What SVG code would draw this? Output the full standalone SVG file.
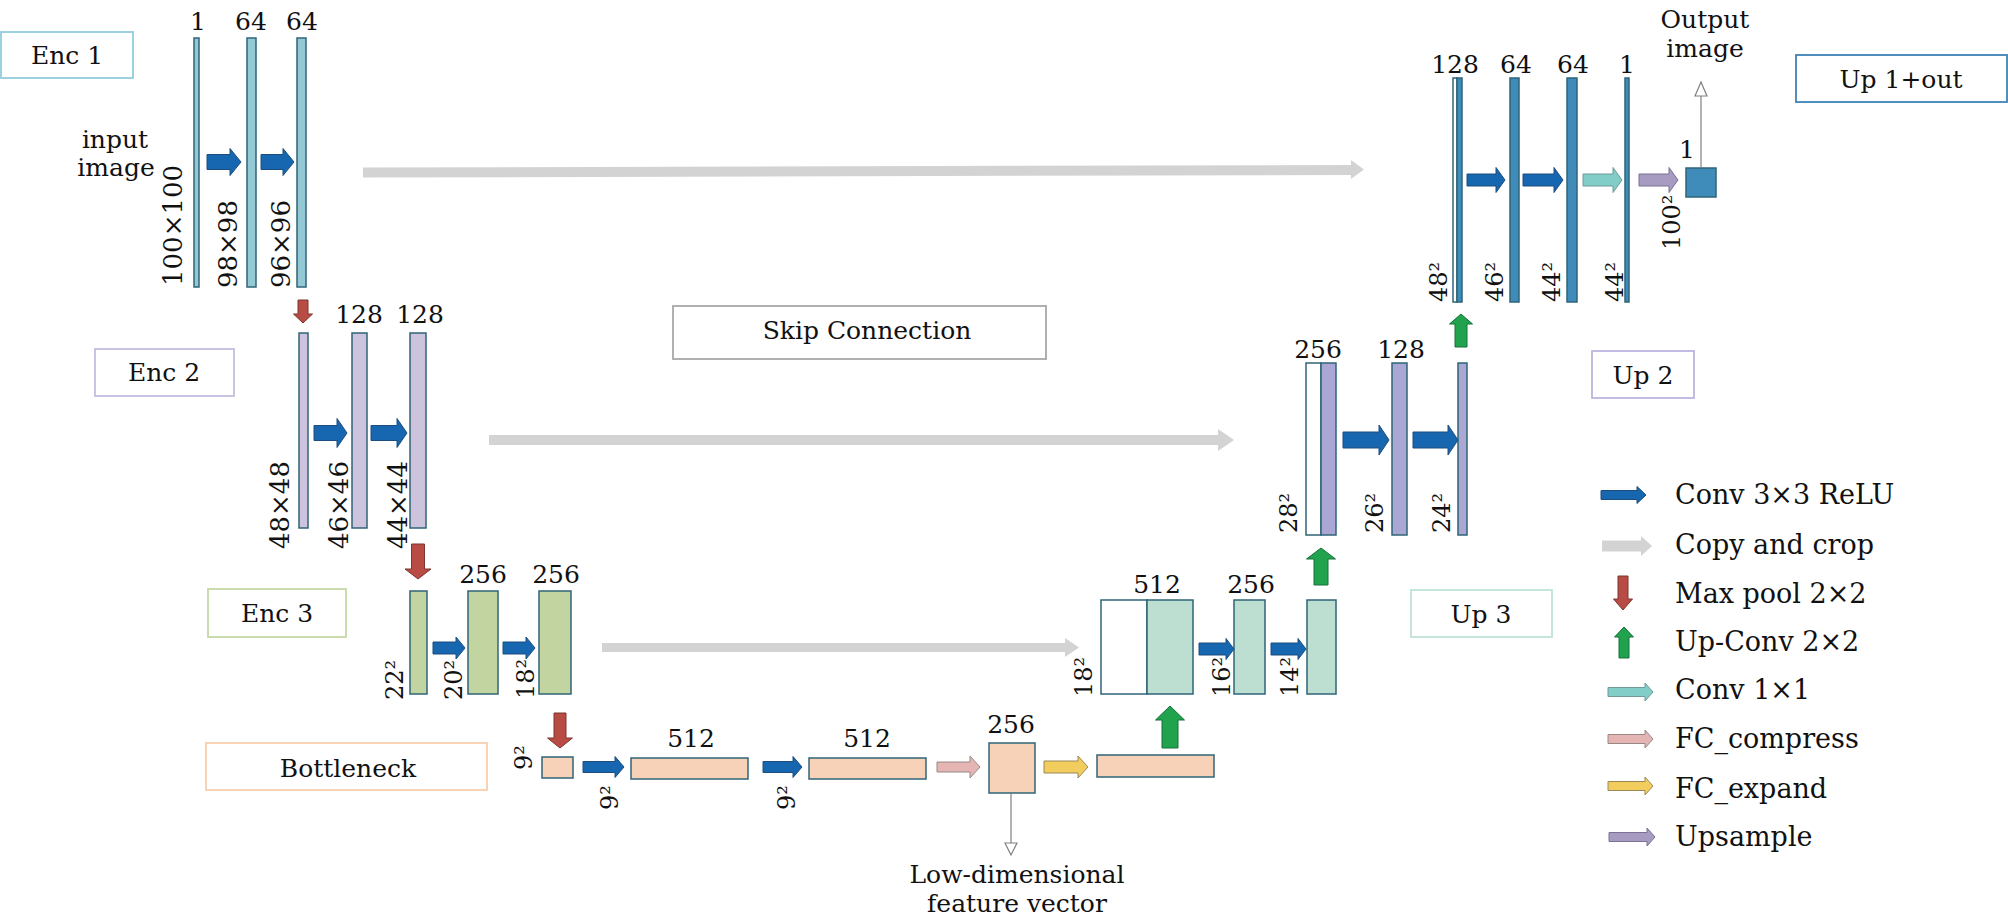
<svg xmlns="http://www.w3.org/2000/svg" width="2008" height="922" viewBox="0 0 2008 922">
<style>
text{font-family:"DejaVu Serif","Liberation Serif",serif;fill:#111}
.lbl{font-size:25px}
.leg{font-size:27px}
.c{text-anchor:middle}
.num{font-size:25px;text-anchor:middle}
.rot{font-size:24px}
.rotx{font-size:26px}
.box{fill:#fff;stroke-width:1.8}
.bar{stroke:#2f6477;stroke-width:1.5}
.e1{fill:#93c8d5}.e2{fill:#cdc3dd}.e3{fill:#c2d5a0}.bn{fill:#f7d2b8}.u3{fill:#bddfd2}.u2{fill:#aaa7d4}.u1{fill:#3f8cba}.wh{fill:#fff}
.conv{fill:#1767b0;stroke:#1c4d7c;stroke-width:1}
.skip{fill:#d3d3d3}
.pool{fill:#b84c45;stroke:#7c3530;stroke-width:1}
.up{fill:#21a34e;stroke:#17703a;stroke-width:1}
.c11{fill:#83cdc8;stroke:#6f9a98;stroke-width:1}
.fcc{fill:#e4b5b3;stroke:#978886;stroke-width:1}
.fce{fill:#f2cc5c;stroke:#988a56;stroke-width:1}
.ups{fill:#a89bc2;stroke:#7b7192;stroke-width:1}
.thin{stroke:#808080;stroke-width:1.2;fill:none}
.tri{fill:#fff;stroke:#808080;stroke-width:1.2}
</style>

<g id="enc1">
<rect class="box" x="1" y="32" width="132" height="46" stroke="#92cddc"/>
<text class="lbl c" x="67" y="64">Enc 1</text>
<text class="lbl c" x="115" y="148">input</text>
<text class="lbl c" x="116" y="176">image</text>
<rect class="bar e1" x="194" y="38" width="5" height="249"/>
<rect class="bar e1" x="247" y="38" width="9" height="249"/>
<rect class="bar e1" x="297" y="38" width="9" height="249"/>
<text class="num" x="198" y="30">1</text>
<text class="num" x="251" y="30">64</text>
<text class="num" x="302" y="30">64</text>
<text class="rotx" transform="translate(182,286) rotate(-90)">100×100</text>
<text class="rotx" transform="translate(237,288) rotate(-90)">98×98</text>
<text class="rotx" transform="translate(290,288) rotate(-90)">96×96</text>
</g>

<g id="enc2">
<rect class="box" x="95" y="349" width="139" height="47" stroke="#c6bde0"/>
<text class="lbl c" x="164" y="381">Enc 2</text>
<rect class="bar e2" x="299" y="333" width="9" height="195"/>
<rect class="bar e2" x="352" y="333" width="15" height="195"/>
<rect class="bar e2" x="410" y="333" width="16" height="195"/>
<text class="num" x="359" y="323">128</text>
<text class="num" x="420" y="323">128</text>
<text class="rotx" transform="translate(289,549) rotate(-90)">48×48</text>
<text class="rotx" transform="translate(348,549) rotate(-90)">46×46</text>
<text class="rotx" transform="translate(407,549) rotate(-90)">44×44</text>
</g>

<g id="enc3">
<rect class="box" x="208" y="589" width="138" height="48" stroke="#c5d9a6"/>
<text class="lbl c" x="277" y="622">Enc 3</text>
<rect class="bar e3" x="410" y="591" width="17" height="103"/>
<rect class="bar e3" x="468" y="591" width="30" height="103"/>
<rect class="bar e3" x="539" y="591" width="32" height="103"/>
<text class="num" x="483" y="583">256</text>
<text class="num" x="556" y="583">256</text>
<text class="rot" transform="translate(403,700) rotate(-90)">22²</text>
<text class="rot" transform="translate(462,700) rotate(-90)">20²</text>
<text class="rot" transform="translate(534,699) rotate(-90)">18²</text>
</g>

<g id="bottleneck">
<rect class="box" x="206" y="743" width="281" height="47" stroke="#f8cfae"/>
<text class="lbl c" x="348" y="777">Bottleneck</text>
<rect class="bar bn" x="542" y="757" width="31" height="21"/>
<rect class="bar bn" x="631" y="758" width="117" height="21"/>
<rect class="bar bn" x="809" y="758" width="117" height="21"/>
<rect class="bar bn" x="989" y="743" width="46" height="50"/>
<rect class="bar bn" x="1097" y="755" width="117" height="22"/>
<text class="num" x="691" y="747">512</text>
<text class="num" x="867" y="747">512</text>
<text class="num" x="1011" y="733">256</text>
<text class="rot" transform="translate(532,770) rotate(-90)">9²</text>
<text class="rot" transform="translate(618,810) rotate(-90)">9²</text>
<text class="rot" transform="translate(795,810) rotate(-90)">9²</text>
<text class="lbl c" x="1017" y="883">Low-dimensional</text>
<text class="lbl c" x="1017" y="912">feature vector</text>
</g>

<g id="skiplabel">
<rect class="box" x="673" y="306" width="373" height="53" stroke="#a8a8a8"/>
<text class="lbl c" x="867" y="339">Skip Connection</text>
</g>

<g id="up3">
<rect class="box" x="1411" y="590" width="141" height="47" stroke="#bfe3d6"/>
<text class="lbl c" x="1481" y="623">Up 3</text>
<rect class="bar wh" x="1101" y="600" width="46" height="94"/>
<rect class="bar u3" x="1147" y="600" width="46" height="94"/>
<rect class="bar u3" x="1234" y="600" width="31" height="94"/>
<rect class="bar u3" x="1307" y="600" width="29" height="94"/>
<text class="num" x="1157" y="593">512</text>
<text class="num" x="1251" y="593">256</text>
<text class="rot" transform="translate(1092,697) rotate(-90)">18²</text>
<text class="rot" transform="translate(1230,697) rotate(-90)">16²</text>
<text class="rot" transform="translate(1298,697) rotate(-90)">14²</text>
</g>

<g id="up2">
<rect class="box" x="1592" y="351" width="102" height="47" stroke="#bcb4e0"/>
<text class="lbl c" x="1643" y="384">Up 2</text>
<rect class="bar wh" x="1306" y="363" width="15" height="172"/>
<rect class="bar u2" x="1321" y="363" width="15" height="172"/>
<rect class="bar u2" x="1392" y="363" width="15" height="172"/>
<rect class="bar u2" x="1458" y="363" width="9" height="172"/>
<text class="num" x="1318" y="358">256</text>
<text class="num" x="1401" y="358">128</text>
<text class="rot" transform="translate(1297,533) rotate(-90)">28²</text>
<text class="rot" transform="translate(1383,533) rotate(-90)">26²</text>
<text class="rot" transform="translate(1450,533) rotate(-90)">24²</text>
</g>

<g id="up1out">
<rect class="box" x="1796" y="55" width="211" height="47" stroke="#3f83b8"/>
<text class="lbl c" x="1901" y="88">Up 1+out</text>
<rect class="bar wh" x="1453" y="78" width="4" height="224"/>
<rect class="bar u1" x="1457" y="78" width="5" height="224"/>
<rect class="bar u1" x="1510" y="78" width="9" height="224"/>
<rect class="bar u1" x="1567" y="78" width="10" height="224"/>
<rect class="bar u1" x="1625" y="78" width="4" height="224"/>
<rect class="bar u1" x="1686" y="168" width="30" height="29"/>
<text class="num" x="1455" y="73">128</text>
<text class="num" x="1516" y="73">64</text>
<text class="num" x="1573" y="73">64</text>
<text class="num" x="1627" y="73">1</text>
<text class="num" x="1687" y="158">1</text>
<text class="rot" transform="translate(1447,302) rotate(-90)">48²</text>
<text class="rot" transform="translate(1503,302) rotate(-90)">46²</text>
<text class="rot" transform="translate(1560,302) rotate(-90)">44²</text>
<text class="rot" transform="translate(1623,302) rotate(-90)">44²</text>
<text class="rot" transform="translate(1680,250) rotate(-90)">100²</text>
<text class="lbl c" x="1705" y="28">Output</text>
<text class="lbl c" x="1705" y="57">image</text>
</g>

<g id="connectors">
<polygon class="skip" points="363,167.5 1351,165 1351,160 1364,169.5 1351,179 1351,175 363,177.5"/>
<polygon class="skip" points="489,435 1218,435 1218,429 1234,440 1218,451 1218,445 489,445"/>
<polygon class="skip" points="602,643 1065,643 1065,638 1079,647.5 1065,657 1065,652 602,652"/>
<polygon class="conv" points="207,154.5 230,154.5 230,148.5 241,162 230,175.5 230,169.5 207,169.5"/>
<polygon class="conv" points="261,154.5 283,154.5 283,148.5 294,162 283,175.5 283,169.5 261,169.5"/>
<polygon class="conv" points="314,425.5 337,425.5 337,418.5 347,433 337,447.5 337,440.5 314,440.5"/>
<polygon class="conv" points="371,425.5 397,425.5 397,418.5 407,433 397,447.5 397,440.5 371,440.5"/>
<polygon class="conv" points="433,642 456,642 456,637 465,648 456,659 456,654 433,654"/>
<polygon class="conv" points="503,642 526,642 526,637 535,648 526,659 526,654 503,654"/>
<polygon class="conv" points="583,761.5 615,761.5 615,756.5 624,767 615,777.5 615,772.5 583,772.5"/>
<polygon class="conv" points="763,761.5 793,761.5 793,756.5 802,767 793,777.5 793,772.5 763,772.5"/>
<polygon class="fcc" points="937,762 970,762 970,756 980,767 970,778 970,772 937,772"/>
<polygon class="fce" points="1044,761 1078,761 1078,756 1088,767 1078,778 1078,773 1044,773"/>
<polygon class="conv" points="1199,643 1226,643 1226,638.5 1234,649 1226,659.5 1226,655 1199,655"/>
<polygon class="conv" points="1271,643 1298,643 1298,638.5 1306,649 1298,659.5 1298,655 1271,655"/>
<polygon class="conv" points="1343,432 1379,432 1379,425 1389,440 1379,455 1379,448 1343,448"/>
<polygon class="conv" points="1413,432 1448,432 1448,425 1458,440 1448,455 1448,448 1413,448"/>
<polygon class="conv" points="1467,174 1496,174 1496,167.5 1505,180 1496,192.5 1496,186 1467,186"/>
<polygon class="conv" points="1523,174 1554,174 1554,167.5 1563,180 1554,192.5 1554,186 1523,186"/>
<polygon class="c11" points="1583,174 1613,174 1613,167.5 1622,180 1613,192.5 1613,186 1583,186"/>
<polygon class="ups" points="1639,174 1669,174 1669,167.5 1678,180 1669,192.5 1669,186 1639,186"/>
<polygon class="pool" points="298,300 308,300 308,314 312.5,314 303,323 293.5,314 298,314"/>
<polygon class="pool" points="411.5,544 424.5,544 424.5,569 431,569 418,579 405,569 411.5,569"/>
<polygon class="pool" points="554,713 566,713 566,738 572.5,738 560,748 547.5,738 554,738"/>
<polygon class="up" points="1170,706 1184.5,720 1178,720 1178,748 1162,748 1162,720 1155.5,720"/>
<polygon class="up" points="1321,548 1335.5,559 1328,559 1328,585 1314,585 1314,559 1306.5,559"/>
<polygon class="up" points="1461,314 1472.5,324 1467,324 1467,347 1455,347 1455,324 1449.5,324"/>
<line class="thin" x1="1701" y1="168" x2="1701" y2="96"/>
<polygon class="tri" points="1701,82 1707,96 1695,96"/>
<line class="thin" x1="1011" y1="793" x2="1011" y2="843"/>
<polygon class="tri" points="1011,855 1005,843 1017,843"/>
</g>

<g id="legend">
<polygon class="conv" points="1601,490.5 1637,490.5 1637,486.5 1646,495 1637,503.5 1637,499.5 1601,499.5"/>
<text class="leg" x="1675" y="504">Conv 3×3 ReLU</text>
<polygon class="skip" points="1602,540.5 1641,540.5 1641,536 1652,546 1641,556 1641,551.5 1602,551.5"/>
<text class="leg" x="1675" y="554">Copy and crop</text>
<polygon class="pool" points="1618,576 1628,576 1628,599 1632.5,599 1623,610 1613.5,599 1618,599"/>
<text class="leg" x="1675" y="603">Max pool 2×2</text>
<polygon class="up" points="1624,627 1633.5,637 1629,637 1629,658 1619,658 1619,637 1614.5,637"/>
<text class="leg" x="1675" y="651">Up-Conv 2×2</text>
<polygon class="c11" points="1608,687.5 1645,687.5 1645,683 1653,692 1645,701 1645,696.5 1608,696.5"/>
<text class="leg" x="1675" y="699">Conv 1×1</text>
<polygon class="fcc" points="1608,734.5 1645,734.5 1645,730 1653,739 1645,748 1645,743.5 1608,743.5"/>
<text class="leg" x="1675" y="748">FC_compress</text>
<polygon class="fce" points="1608,781.5 1645,781.5 1645,777 1653,786 1645,795 1645,790.5 1608,790.5"/>
<text class="leg" x="1675" y="798">FC_expand</text>
<polygon class="ups" points="1609,832.5 1647,832.5 1647,828 1655,837 1647,846 1647,841.5 1609,841.5"/>
<text class="leg" x="1675" y="846">Upsample</text>
</g>
</svg>
